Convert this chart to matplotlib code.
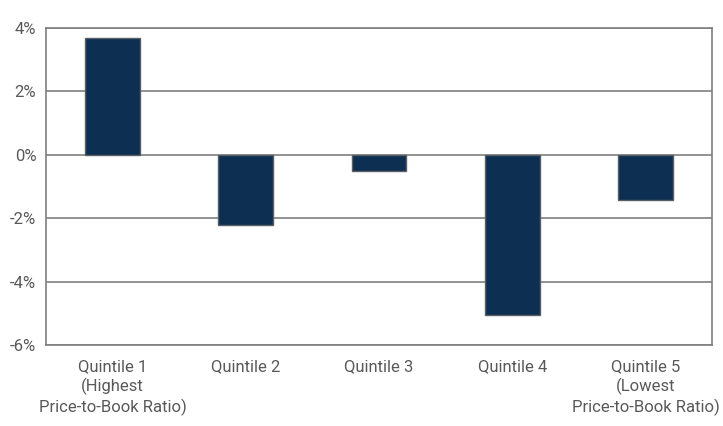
import numpy as np
import matplotlib.pyplot as plt
from matplotlib.ticker import FuncFormatter

categories = ["Quintile 1\n(Highest\nPrice-to-Book Ratio)", "Quintile 2", "Quintile 3",
              "Quintile 4", "Quintile 5\n(Lowest\nPrice-to-Book Ratio)"]
returns = [3.68, -2.2, -0.52, -5.04, -1.42]
yticks = [-6, -4, -2, 0, 2, 4]

plt.rcParams['font.family'] = ['Roboto', 'DejaVu Sans']

fig = plt.figure(figsize=(7.23, 4.26), dpi=100)
ax = fig.add_axes([46/723, 1 - 345/426, 666/723, 317/426])

x = np.arange(len(categories))
ax.bar(x, returns, width=0.41, color="#0c2f52", edgecolor="#5a5f66", linewidth=1, zorder=3)

ax.set_xlim(-0.5, len(categories) - 0.5)
ax.set_ylim(-6, 4)
ax.set_yticks(yticks)
ax.yaxis.set_major_formatter(FuncFormatter(lambda v, p: f"{v:.0f}%"))
ax.set_xticks(x)
ax.set_xticklabels(categories, linespacing=1.3)
ax.grid(axis="y", color="#7f7f7f", linewidth=1.2, zorder=0)
ax.tick_params(length=0, labelsize=12, colors="#595959", pad=7)
ax.tick_params(axis="x", pad=10)
for s in ax.spines.values():
    s.set_color("#7f7f7f")
    s.set_linewidth(1.2)

fig.savefig("out.png", dpi=100)
